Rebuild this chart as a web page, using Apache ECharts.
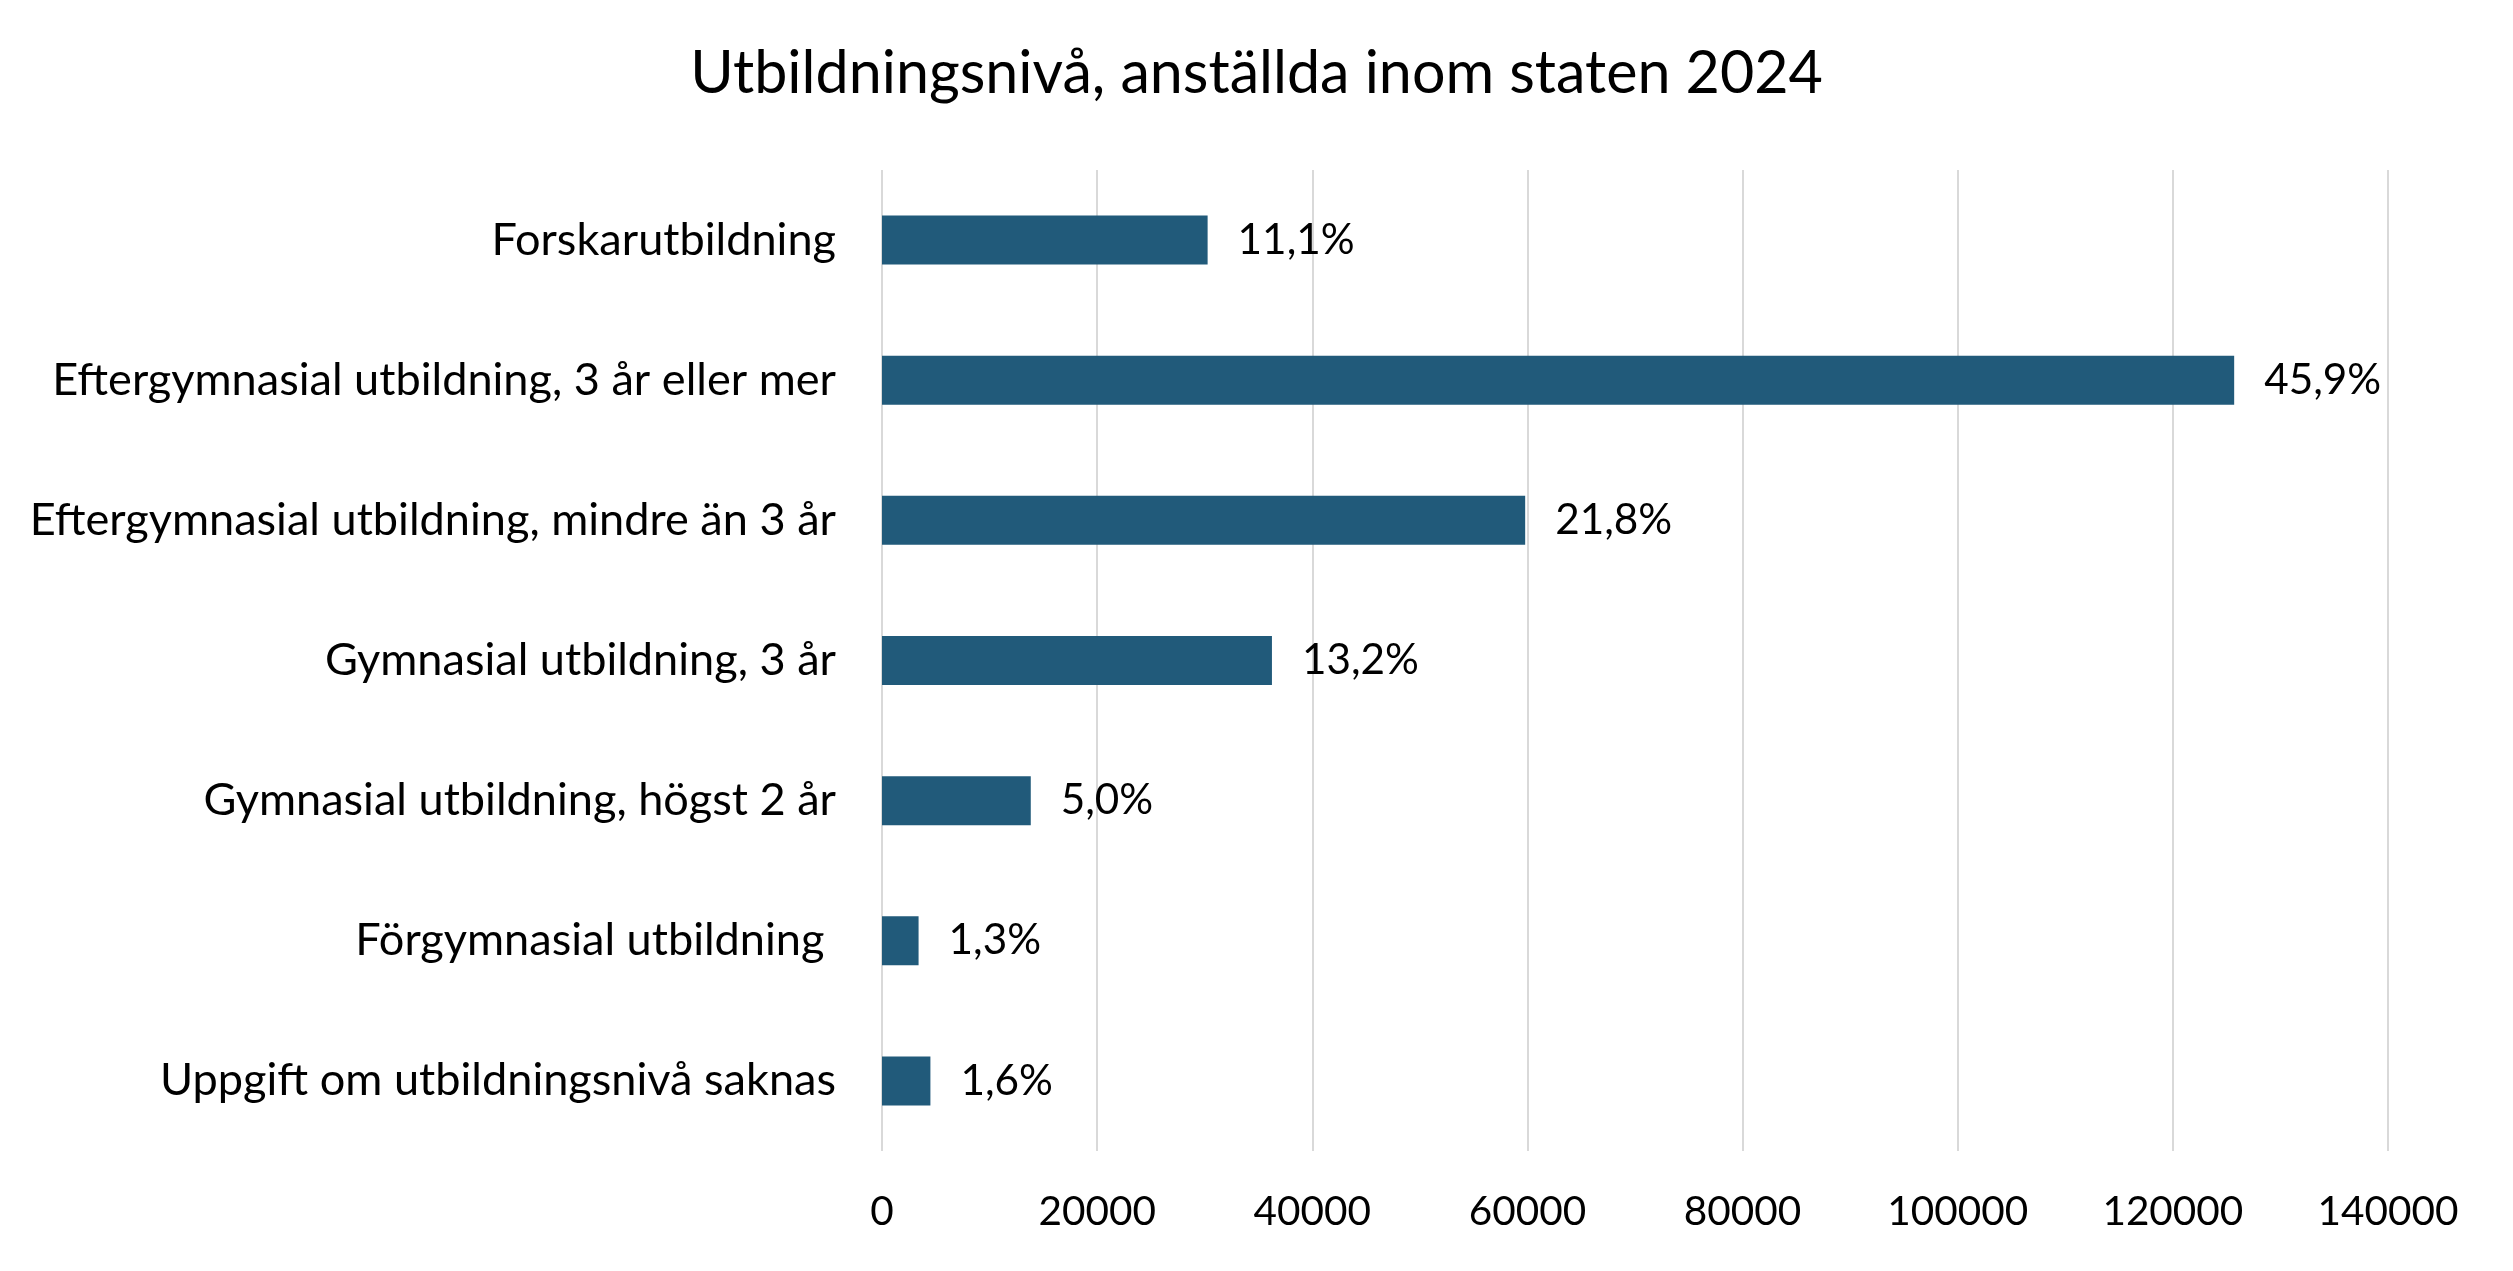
<!DOCTYPE html>
<html>
<head>
<meta charset="utf-8">
<script src="https://cdn.jsdelivr.net/npm/echarts@6/dist/echarts.min.js"></script>
<style>
html,body{margin:0;padding:0;background:#ffffff;}
#chart{width:2513px;height:1271px;}
</style>
</head>
<body>
<div id="chart"></div>
<script>
// ---- Data ----
const titleText = 'Utbildningsnivå, anställda inom staten 2024';
const categories = [
  'Forskarutbildning',
  'Eftergymnasial utbildning, 3 år eller mer',
  'Eftergymnasial utbildning, mindre än 3 år',
  'Gymnasial utbildning, 3 år',
  'Gymnasial utbildning, högst 2 år',
  'Förgymnasial utbildning ',
  'Uppgift om utbildningsnivå saknas'
];
const employees = [30270, 125700, 59790, 36250, 13830, 3400, 4500];
const percentLabels = ['11,1%', '45,9%', '21,8%', '13,2%', '5,0%', '1,3%', '1,6%'];
const xMin = 0;
const xMax = 140000;
const xStep = 20000;

// ---- Font fitting (substitute for Calibri) ----
const FONT = 'Lato';
const measureCtx = document.createElement('canvas').getContext('2d');
function fitSize(text, targetWidth) {
  measureCtx.font = 'normal 100px ' + FONT;
  return 100 * targetWidth / measureCtx.measureText(text).width;
}
const titleSize = fitSize(titleText, 1133);
const catSize = fitSize('Eftergymnasial utbildning, 3 år eller mer', 784);
const tickSize = fitSize('140000', 141);
const dataSize = fitSize('21,8%', 117);

const chart = echarts.init(document.getElementById('chart'), null, {renderer: 'canvas'});
chart.setOption({
  animation: false,
  backgroundColor: '#ffffff',
  title: {
    text: titleText,
    left: 'center',
    top: 75 - titleSize * 0.6,
    textStyle: {fontFamily: FONT, fontSize: titleSize, fontWeight: 'normal', color: '#000000'}
  },
  grid: {left: 882, right: 125, top: 170, bottom: 120, containLabel: false, outerBoundsMode: 'none'},
  xAxis: {
    type: 'value',
    min: xMin,
    max: xMax,
    interval: xStep,
    axisLine: {show: false},
    axisTick: {show: false},
    splitLine: {show: true, lineStyle: {color: '#d9d9d9', width: 2}},
    axisLabel: {
      fontFamily: FONT, fontSize: tickSize, color: '#000000',
      margin: 1214 - 1151 - tickSize * 0.55,
      formatter: v => String(v)
    }
  },
  yAxis: {
    type: 'category',
    inverse: true,
    data: categories,
    axisLine: {show: false},
    axisTick: {show: false},
    splitLine: {show: false},
    axisLabel: {fontFamily: FONT, fontSize: catSize, color: '#000000', margin: 46}
  },
  series: [{
    type: 'bar',
    data: employees,
    barWidth: 49,
    itemStyle: {color: '#215A7A'},
    label: {
      show: true,
      position: 'right',
      distance: 30,
      fontFamily: FONT,
      fontSize: dataSize,
      color: '#000000',
      formatter: p => percentLabels[p.dataIndex]
    }
  }]
});
</script>
</body>
</html>
